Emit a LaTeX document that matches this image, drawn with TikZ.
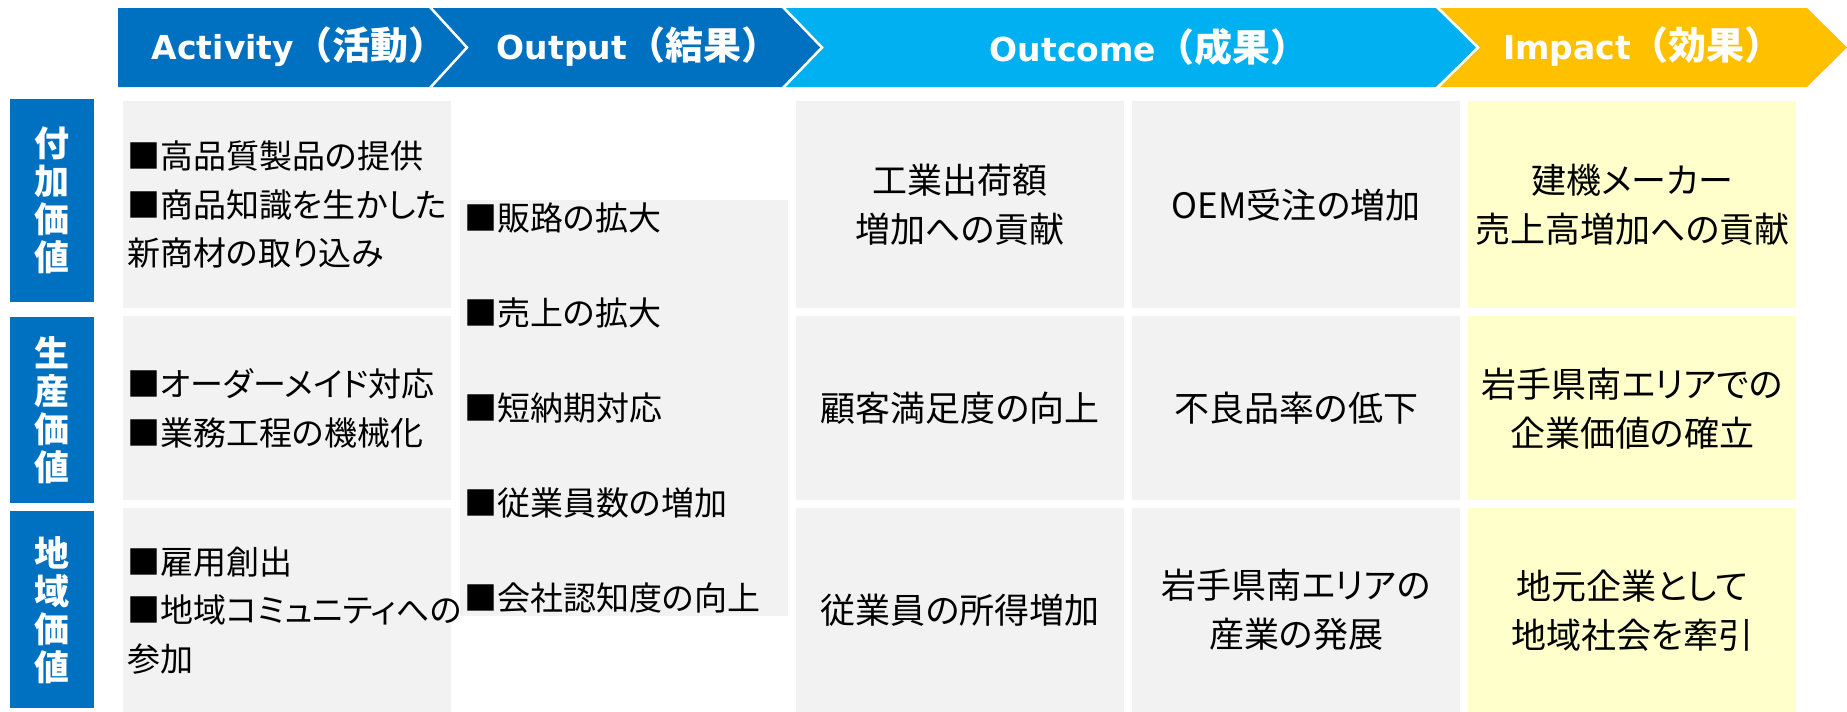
\documentclass[tikz,border=0pt]{standalone}
\usepackage{fontspec}
\setmainfont{Noto Sans CJK JP}
\newfontfamily\latfont{DejaVu Sans}
\newfontfamily\bodyfont{Noto Sans CJK JP}[RawFeature=+palt]
\usetikzlibrary{positioning}
\definecolor{darkblue}{HTML}{0070C0}
\definecolor{skyblue}{HTML}{00B0F0}
\definecolor{gold}{HTML}{FFC000}
\definecolor{cellgray}{HTML}{F2F2F2}
\definecolor{cellyellow}{HTML}{FFFFCC}

\begin{document}
\begin{tikzpicture}[x=1pt,y=-1pt,
    sep/.style={draw=white,line width=2.5pt,line join=miter},
    headtxt/.style={text=white,inner sep=0pt,font=\fontsize{38}{40}\selectfont\bfseries},
    tag/.style={fill=darkblue,text=white,anchor=north west,minimum width=84pt,inner sep=0pt,align=center,font=\fontsize{35}{38}\selectfont\bfseries},
    cell/.style={fill=cellgray,anchor=north west,text width=320pt,inner xsep=4pt,inner ysep=0pt,font=\bodyfont\fontsize{33}{48.5}\selectfont},
    actcell/.style={cell,align=left},
    outcell/.style={cell,align=center,font=\bodyfont\fontsize{35}{49}\selectfont},
    impcell/.style={outcell,fill=cellyellow}]
  \useasboundingbox (0,0) rectangle (1847,712);

  % header band
  \fill[darkblue] (118,8) -- (429,8) -- (467,47.5) -- (429,87) -- (118,87) -- cycle;
  \fill[darkblue] (429,8) -- (782,8) -- (822,47.5) -- (782,87) -- (429,87) -- (467,47.5) -- cycle;
  \fill[skyblue] (782,8) -- (1436,8) -- (1478,47.5) -- (1436,87) -- (782,87) -- (822,47.5) -- cycle;
  \fill[gold] (1436,8) -- (1807,8) -- (1847,47.5) -- (1807,87) -- (1436,87) -- (1478,47.5) -- cycle;
  \draw[sep] (429,6) -- (467,47.5) -- (429,89);
  \draw[sep] (782,6) -- (822,47.5) -- (782,89);
  \draw[sep] (1436,6) -- (1478,47.5) -- (1436,89);

  \node[headtxt] (act) at (299,47) {{\latfont\fontsize{33}{38}\selectfont Activity}（活動）};
  \node[headtxt] (outp) at (638,47) {{\latfont\fontsize{33}{38}\selectfont Output}（結果）};
  \node[headtxt] (outc) at (1149,47) {{\latfont\fontsize{33}{38}\selectfont Outcome}（成果）};
  \node[headtxt] (imp) at (1643,47) {{\latfont\fontsize{33}{38}\selectfont Impact}（効果）};

  % row labels
  \node[tag,minimum height=203pt] (tag1) at (10,99) {付\\加\\価\\値};
  \node[tag,minimum height=186pt] (tag2) at (10,317) {生\\産\\価\\値};
  \node[tag,minimum height=197pt] (tag3) at (10,511) {地\\域\\価\\値};

  % activity
  \node[actcell,minimum height=207pt] (act1) at (123,101) {■高品質製品の提供\\■商品知識を生かした\\新商材の取り込み};
  \node[actcell,minimum height=184pt] (act2) at (123,316) {■オーダーメイド対応\\■業務工程の機械化};
  \node[actcell,minimum height=204pt] (act3) at (123,508) {■雇用創出\\■地域コミュニティへの\\参加};

  % output
  \node[actcell,minimum height=416pt,font=\bodyfont\fontsize{33}{95}\selectfont] (out) at (460,200)
    {■販路の拡大\\■売上の拡大\\■短納期対応\\■従業員数の増加\\■会社認知度の向上};

  % outcome
  \node[outcell,minimum height=207pt] (oc1) at (796,101) {工業出荷額\\増加への貢献};
  \node[outcell,minimum height=207pt] (od1) at (1132,101) {OEM受注の増加};
  \node[outcell,minimum height=184pt] (oc2) at (796,316) {顧客満足度の向上};
  \node[outcell,minimum height=184pt] (od2) at (1132,316) {不良品率の低下};
  \node[outcell,minimum height=204pt] (oc3) at (796,508) {従業員の所得増加};
  \node[outcell,minimum height=204pt] (od3) at (1132,508) {岩手県南エリアの\\産業の発展};

  % impact
  \node[impcell,minimum height=207pt] (im1) at (1468,101) {建機メーカー\\売上高増加への貢献};
  \node[impcell,minimum height=184pt] (im2) at (1468,316) {岩手県南エリアでの\\企業価値の確立};
  \node[impcell,minimum height=204pt] (im3) at (1468,508) {地元企業として\\地域社会を牽引};
\end{tikzpicture}
\end{document}
